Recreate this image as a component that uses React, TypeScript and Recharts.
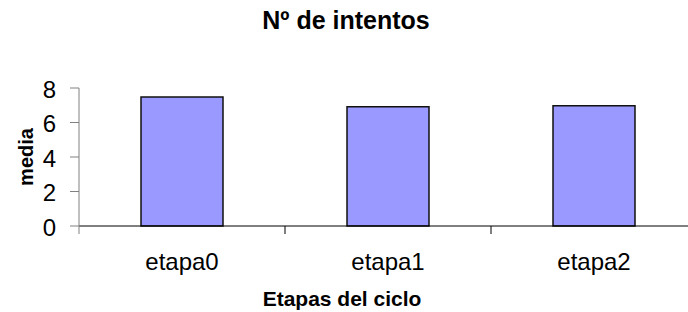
import React from 'react'
import { BarChart, Bar, XAxis, YAxis } from 'recharts'

// chart data
const stages = ['etapa0', 'etapa1', 'etapa2']
const means = [7.48, 6.92, 6.97]
const yTicks = [0, 2, 4, 6, 8]

const chartTitle = 'Nº de intentos'
const xTitle = 'Etapas del ciclo'
const yTitle = 'media'

const data = stages.map((stage, i) => ({ stage, media: means[i] }))

const FONT = '"Liberation Sans", Arial, sans-serif'

// Excel-style category axis: labels centred, tick marks on the category boundaries
const StageTick = (props: any) => {
  const { x, y, payload, index, visibleTicksCount, width } = props
  let half = payload && payload.offset ? payload.offset : 0
  if (!half && width && visibleTicksCount) half = width / visibleTicksCount / 2
  if (!half) half = 103
  const last = index === visibleTicksCount - 1
  return (
    <g>
      <line x1={x - half} x2={x - half} y1={y} y2={y + 8} stroke={index === 0 ? '#808080' : '#000'} strokeWidth={1} />
      {last && <line x1={x + half} x2={x + half} y1={y} y2={y + 8} stroke="#000" strokeWidth={1} />}
      <text x={x} y={y + 44} textAnchor="middle" fill="#000" fontSize={24} fontFamily={FONT}>
        {payload.value}
      </text>
    </g>
  )
}

export default function App() {
  return (
    <div style={{ position: 'fixed', top: 0, left: 0, width: 688, height: 312, overflow: 'hidden', background: '#fff' }}>
      <BarChart
        width={700}
        height={312}
        data={data}
        margin={{ top: 88, right: 3, left: 0, bottom: 0 }}
      >
        <XAxis
          dataKey="stage"
          height={86}
          axisLine={{ stroke: '#000', strokeWidth: 1 }}
          tickLine={false}
          tickSize={0}
          tickMargin={0}
          tick={<StageTick />}
          interval={0}
        />
        <YAxis
          width={79}
          domain={[0, 8]}
          ticks={yTicks}
          interval={0}
          axisLine={{ stroke: '#808080', strokeWidth: 1 }}
          tickLine={{ stroke: '#808080' }}
          tickSize={9}
          tickMargin={14}
          tick={{ fill: '#000', fontSize: 24, fontFamily: FONT, dy: 1 }}
        />
        <Bar
          dataKey="media"
          barSize={82}
          fill="#9999FF"
          stroke="#111"
          strokeWidth={1.5}
          isAnimationActive={false}
        />
      </BarChart>
      <svg width={688} height={312} style={{ position: 'absolute', top: 0, left: 0, pointerEvents: 'none' }}>
        <text x={346} y={29} textAnchor="middle" fontSize={25} fontWeight="bold" fontFamily={FONT} fill="#000">
          {chartTitle}
        </text>
        <text x={342} y={306} textAnchor="middle" fontSize={21} fontWeight="bold" fontFamily={FONT} fill="#000">
          {xTitle}
        </text>
        <text
          x={33}
          y={157}
          textAnchor="middle"
          fontSize={20}
          fontWeight="bold"
          fontFamily={FONT}
          fill="#000"
          transform="rotate(-90 33 157)"
        >
          {yTitle}
        </text>
      </svg>
    </div>
  )
}
